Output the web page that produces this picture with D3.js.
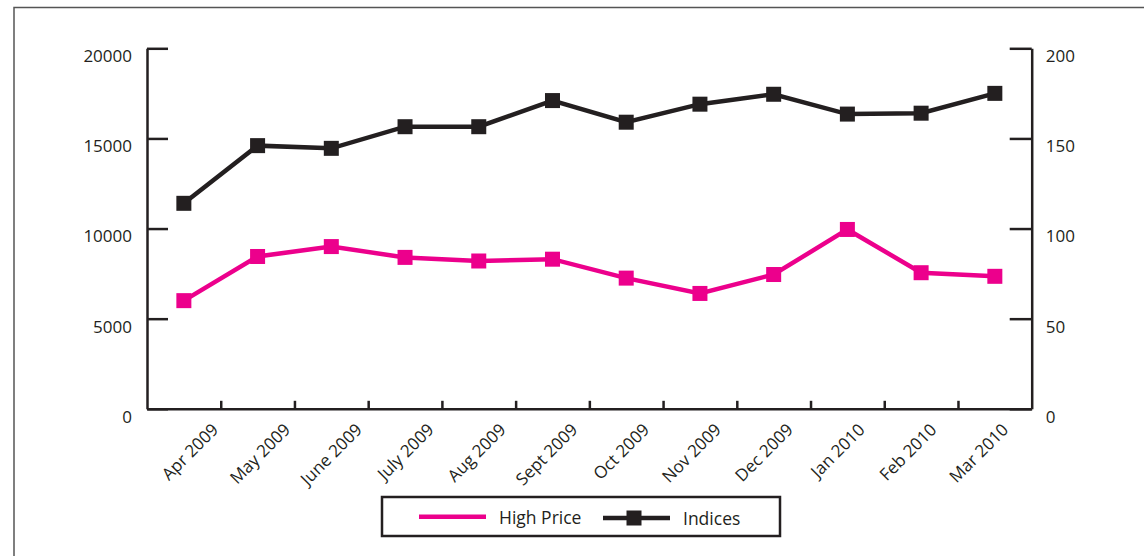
<!DOCTYPE html>
<html>
<head>
<meta charset="utf-8">
<script src="https://cdn.jsdelivr.net/npm/d3@7"></script>
<style>
  html, body { margin: 0; padding: 0; background: #fff; }
  svg { display: block; font-family: "Open Sans", sans-serif; }
</style>
</head>
<body>
<svg id="chart" width="1144" height="556"></svg>
<script>
const months = ["Apr 2009", "May 2009", "June 2009", "July 2009", "Aug 2009", "Sept 2009",
                "Oct 2009", "Nov 2009", "Dec 2009", "Jan 2010", "Feb 2010", "Mar 2010"];
const highPrice = [6000, 8450, 9000, 8400, 8200, 8300, 7250, 6400, 7450, 9950, 7550, 7350];
const indices = [114, 146, 144.5, 156.5, 156.5, 171, 159, 169, 174.5, 163.5, 164, 175];
const leftTicks = [0, 5000, 10000, 15000, 20000];
const rightTicks = [0, 50, 100, 150, 200];
const seriesNames = ["High Price", "Indices"];

const PINK = "#ec008c";
const INK = "#231f20";

const svg = d3.select("#chart");

// outer frame
svg.append("rect")
  .attr("x", 14).attr("y", 7.5).attr("width", 1200).attr("height", 600)
  .attr("fill", "none").attr("stroke", "#555").attr("stroke-width", 1.5);

const plotL = 147, plotR = 1031.7, plotT = 48.3, plotB = 408.8;

const x = d3.scaleBand().domain(months).range([plotL, plotR]).padding(0);
const xIdx = d3.scaleLinear().domain([0, months.length]).range([plotL, plotR]);
const xLabel = d3.scalePoint().domain(months).range([219, 1009]);
const yL = d3.scaleLinear().domain([0, 20000]).range([plotB, plotT]);
const yR = d3.scaleLinear().domain([0, 200]).range([plotB, plotT]);

function styleAxis(g) {
  g.selectAll("path.domain").attr("stroke", INK).attr("stroke-width", 2.5);
  g.selectAll(".tick line").attr("stroke", INK).attr("stroke-width", 2.5);
  g.selectAll(".tick text").attr("fill", INK).style("font-size", "17px")
    .style("font-family", "'Open Sans', sans-serif");
}

// left axis
const gL = svg.append("g").attr("transform", `translate(${plotL},0)`)
  .call(d3.axisLeft(yL).tickValues(leftTicks).tickSizeInner(-21).tickSizeOuter(0).tickPadding(15)
        .tickFormat(d3.format("d")));
styleAxis(gL);
gL.selectAll(".tick text").attr("dy", "0.79em");

// right axis
const gR = svg.append("g").attr("transform", `translate(${plotR},0)`)
  .call(d3.axisRight(yR).tickValues(rightTicks).tickSizeInner(-22).tickSizeOuter(0).tickPadding(14)
        .tickFormat(d3.format("d")));
styleAxis(gR);
gR.selectAll(".tick text").attr("dy", "0.79em");

// bottom axis (ticks at band boundaries)
const gB = svg.append("g").attr("transform", `translate(0,${plotB})`)
  .call(d3.axisBottom(xIdx).tickValues(d3.range(1, months.length)).tickSizeInner(-8).tickSizeOuter(0)
        .tickFormat(""));
styleAxis(gB);

// month labels
const gLab = svg.append("g").attr("transform", `translate(0,${plotB + 22})`)
  .call(d3.axisBottom(xLabel).tickSize(0).tickPadding(0));
gLab.select("path.domain").remove();
gLab.selectAll(".tick text")
  .attr("fill", INK).style("font-size", "17px").style("font-family", "'Open Sans', sans-serif")
  .attr("text-anchor", "end").attr("y", 0).attr("dy", 0)
  .attr("transform", "rotate(-45)");

// lines
const cx = d => x(d) + x.bandwidth() / 2;
const lineL = d3.line().x((d, i) => cx(months[i])).y(d => yL(d));
const lineR = d3.line().x((d, i) => cx(months[i])).y(d => yR(d));
const S = 15;

svg.append("path").datum(highPrice).attr("d", lineL)
  .attr("fill", "none").attr("stroke", PINK).attr("stroke-width", 4.5).attr("stroke-linejoin", "miter");
svg.append("g").selectAll("rect").data(highPrice).join("rect")
  .attr("x", (d, i) => cx(months[i]) - S / 2).attr("y", d => yL(d) - S / 2)
  .attr("width", S).attr("height", S).attr("fill", PINK);

svg.append("path").datum(indices).attr("d", lineR)
  .attr("fill", "none").attr("stroke", INK).attr("stroke-width", 4.5).attr("stroke-linejoin", "miter");
svg.append("g").selectAll("rect").data(indices).join("rect")
  .attr("x", (d, i) => cx(months[i]) - S / 2).attr("y", d => yR(d) - S / 2)
  .attr("width", S).attr("height", S).attr("fill", INK);

// legend
const leg = svg.append("g");
leg.append("rect").attr("x", 382).attr("y", 497).attr("width", 398).attr("height", 39)
  .attr("fill", "#fff").attr("stroke", INK).attr("stroke-width", 2.5);
leg.append("line").attr("x1", 419).attr("x2", 486).attr("y1", 516.7).attr("y2", 516.7)
  .attr("stroke", PINK).attr("stroke-width", 4.5);
leg.append("text").attr("x", 499).attr("y", 523.5).text(seriesNames[0])
  .attr("fill", INK).style("font-size", "17.5px");
leg.append("line").attr("x1", 603).attr("x2", 670).attr("y1", 518).attr("y2", 518)
  .attr("stroke", INK).attr("stroke-width", 4.5);
leg.append("rect").attr("x", 634 - S / 2).attr("y", 518 - S / 2).attr("width", S).attr("height", S)
  .attr("fill", INK);
leg.append("text").attr("x", 683).attr("y", 525).text(seriesNames[1])
  .attr("fill", INK).style("font-size", "17.5px");
</script>
</body>
</html>
